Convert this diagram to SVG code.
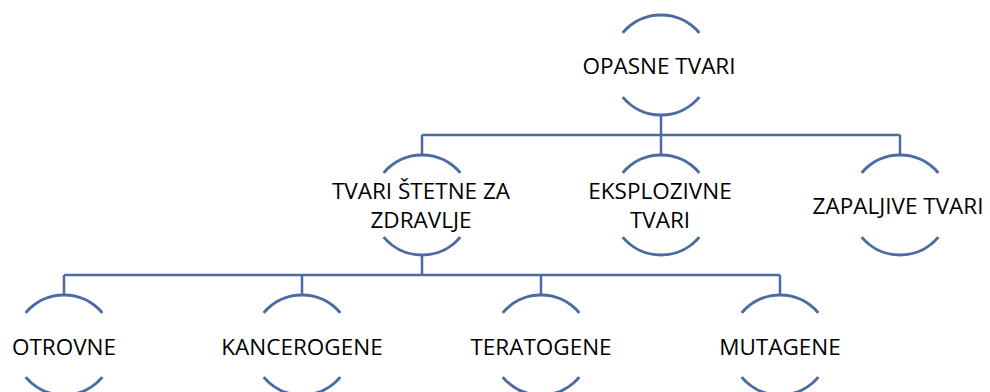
<svg xmlns="http://www.w3.org/2000/svg" width="990" height="392" viewBox="0 0 990 392">
<style>
.arc{fill:none;stroke:#4a6ba3;stroke-width:3;stroke-linecap:butt}
.ln{fill:none;stroke:#4a6ba3;stroke-width:2.5}
.t{font-family:"Open Sans","Liberation Sans",sans-serif;font-size:22.5px;fill:#000;text-anchor:middle}
</style>
<defs>
<path id="circ" d="M-38.3,-32.1 A50,50 0 0 1 38.3,-32.1 M-38.3,32.1 A50,50 0 0 0 38.3,32.1" class="arc"/>
</defs>
<rect width="990" height="392" fill="#fff"/>
<g id="connectors">
<path class="ln" d="M661,115 V135 M422,135 H900 M422,135 V155 M661,135 V155 M900,135 V155"/>
<path class="ln" d="M422,255 V275 M64,275 H780 M64,275 V295 M302,275 V295 M541,275 V295 M780,275 V295"/>
</g>
<g id="opasne">
<use href="#circ" x="661" y="65"/>
<text class="t" x="659" y="74">OPASNE TVARI</text>
</g>
<g id="zdravlje">
<use href="#circ" x="422" y="205"/>
<text class="t" x="421" y="199">TVARI ŠTETNE ZA</text>
<text class="t" x="421" y="228">ZDRAVLJE</text>
</g>
<g id="eksplozivne">
<use href="#circ" x="661" y="205"/>
<text class="t" x="660" y="199">EKSPLOZIVNE</text>
<text class="t" x="660" y="228">TVARI</text>
</g>
<g id="zapaljive">
<use href="#circ" x="900" y="205"/>
<text class="t" x="898" y="214">ZAPALJIVE TVARI</text>
</g>
<g id="otrovne">
<use href="#circ" x="64" y="345"/>
<text class="t" x="64" y="355">OTROVNE</text>
</g>
<g id="kancerogene">
<use href="#circ" x="302" y="345"/>
<text class="t" x="302" y="355">KANCEROGENE</text>
</g>
<g id="teratogene">
<use href="#circ" x="541" y="345"/>
<text class="t" x="541" y="355">TERATOGENE</text>
</g>
<g id="mutagene">
<use href="#circ" x="780" y="345"/>
<text class="t" x="780" y="355">MUTAGENE</text>
</g>
</svg>
